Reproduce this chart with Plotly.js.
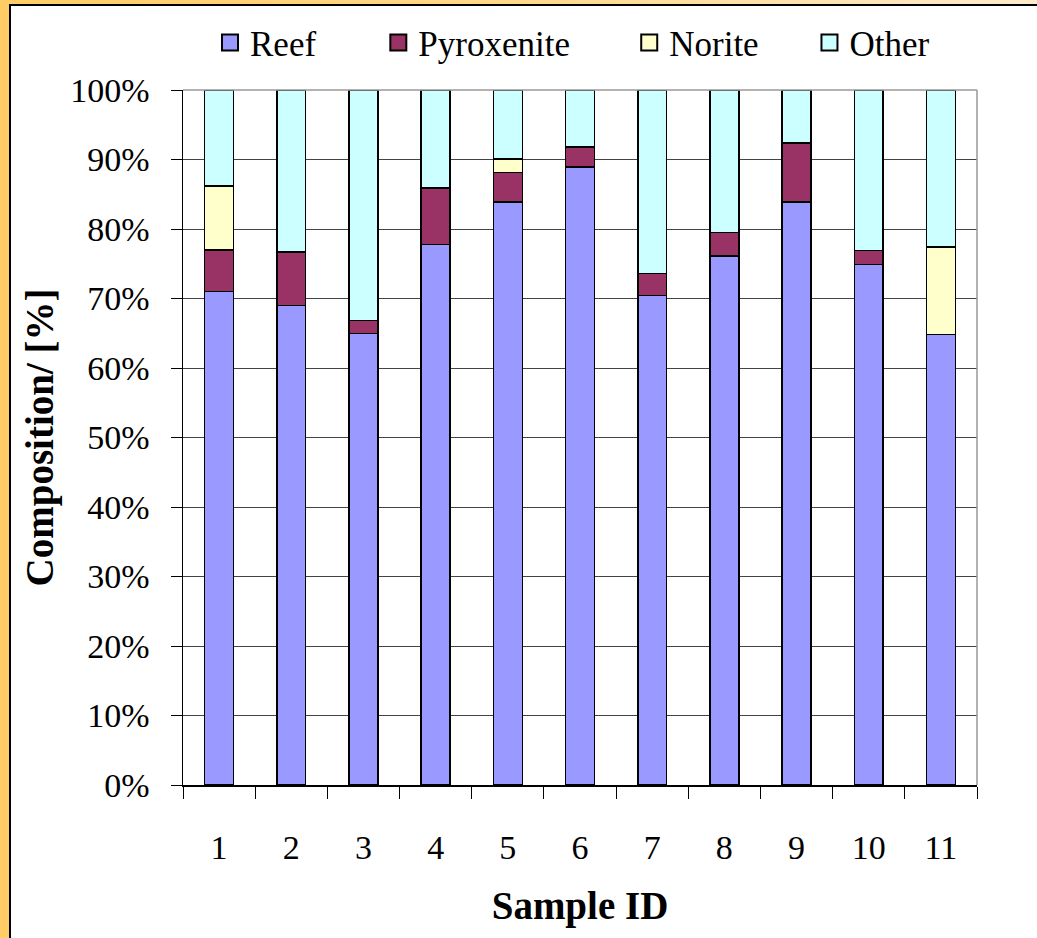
<!DOCTYPE html>
<html>
<head>
<meta charset="utf-8">
<script src="https://cdn.plot.ly/plotly-3.0.1.min.js"></script>
<style>
  html, body { margin:0; padding:0; width:1037px; height:938px; overflow:hidden; }
  #frame { position:absolute; left:0; top:0; width:1037px; height:938px;
           background: linear-gradient(to right, #FFCC66 0%, #FFD88A 50%, #FFEBCC 100%); }
  #inner { position:absolute; left:9px; top:4px; width:1028px; height:934px;
           background:#ffffff; border-left:2px solid #000; border-top:2px solid #000; box-sizing:border-box; }
  #chart { position:absolute; left:0; top:0; width:1037px; height:938px; }
</style>
</head>
<body>
<div id="frame"></div>
<div id="inner"></div>
<div id="chart"></div>
<script>
const categories = ['1','2','3','4','5','6','7','8','9','10','11'];
const reef       = [71.0, 69.0, 65.0, 77.8, 83.9, 88.9, 70.4, 76.1, 83.9, 74.9, 64.8];
const pyroxenite = [6.0,  7.7,  1.8,  8.1,  4.2,  2.9,  3.2,  3.4,  8.5,  2.0,  0.0];
const norite     = [9.2,  0.0,  0.0,  0.0,  2.0,  0.0,  0.0,  0.0,  0.0,  0.0,  12.6];
const other      = [13.8, 23.3, 33.2, 14.1, 9.9,  8.2,  26.4, 20.5, 7.6,  23.1, 22.6];
const seriesNames = ['Reef', 'Pyroxenite', 'Norite', 'Other'];
const seriesColors = ['#9999FF', '#993366', '#FFFFCC', '#CCFFFF'];
const seriesValues = [reef, pyroxenite, norite, other];
const legendIds = ['legend', 'legend2', 'legend3', 'legend4'];
const legendX = [0.034, 0.246, 0.562, 0.789];

const FONT = 'Liberation Serif, Times New Roman, serif';
const traces = [];
seriesValues.forEach((vals, i) => {
  traces.push({
    type: 'bar', x: categories, y: vals, name: seriesNames[i],
    marker: { color: seriesColors[i], line: { color: '#000', width: 1.5 } },
    showlegend: false, hoverinfo: 'y+name'
  });
});
seriesValues.forEach((vals, i) => {
  traces.push({
    type: 'scatter', mode: 'markers', x: [null], y: [null], name: seriesNames[i],
    marker: { symbol: 'square', size: 20, color: seriesColors[i], line: { color: '#000', width: 2 } },
    legend: legendIds[i], showlegend: true
  });
});

const layout = {
  width: 1037, height: 938,
  paper_bgcolor: 'rgba(0,0,0,0)', plot_bgcolor: '#ffffff',
  margin: { l: 183, r: 60, t: 90, b: 153 },
  barmode: 'stack', bargap: 0.6,
  font: { family: FONT, color: '#000', size: 33 },
  xaxis: {
    type: 'category', tickson: 'boundaries', ticks: 'outside', ticklen: 12, tickcolor: '#000', tickwidth: 1,
    showline: true, linecolor: '#000', linewidth: 1.5, showgrid: false,
    ticklabelstandoff: 32, tickfont: { family: FONT, size: 34 },
    title: { text: '<b>Sample ID</b>', font: { family: FONT, size: 39 }, standoff: 26 },
    fixedrange: true
  },
  yaxis: {
    range: [0, 100], dtick: 10, ticksuffix: '%', ticks: 'outside', ticklen: 11, tickcolor: '#000', tickwidth: 1,
    showline: true, linecolor: '#000', linewidth: 1.5, showgrid: true, gridcolor: '#444', gridwidth: 1,
    zeroline: false, ticklabelstandoff: 14, tickfont: { family: FONT, size: 34 },
    title: { text: '<b>Composition/ [%]</b>', font: { family: FONT, size: 39 }, standoff: 4 },
    fixedrange: true
  },
  shapes: [
    { type: 'line', xref: 'paper', yref: 'paper', x0: 1, x1: 1, y0: 0, y1: 1, line: { color: '#999', width: 1.5 } },
    { type: 'line', xref: 'paper', yref: 'paper', x0: 0, x1: 1, y0: 1, y1: 1, line: { color: '#999', width: 1.5 } }
  ]
};
legendIds.forEach((id, i) => {
  layout[id] = {
    x: legendX[i], y: 1.068, xanchor: 'left', yanchor: 'middle', orientation: 'h',
    bgcolor: 'rgba(0,0,0,0)', font: { family: FONT, size: 35 }, itemwidth: 30
  };
});

Plotly.newPlot('chart', traces, layout, { displayModeBar: false, staticPlot: true });
</script>
</body>
</html>
